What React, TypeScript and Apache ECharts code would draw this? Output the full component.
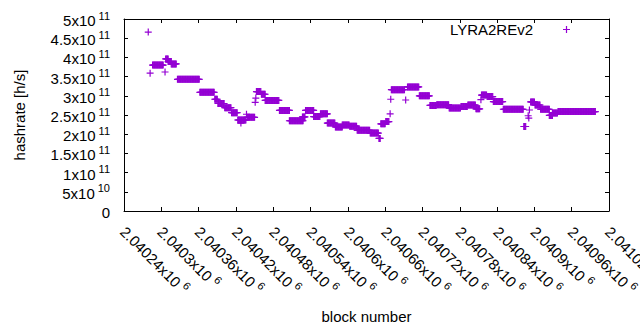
import React, { useEffect, useRef } from "react";
import * as echarts from "echarts";

// Runs of blocks sharing the same hashrate value (start block, end block, hashrate)
const runStart = [
  2040279, 2040282, 2040286, 2040306, 2040307, 2040311, 2040316, 2040326, 2040362, 2040386,
  2040391, 2040402, 2040413, 2040423, 2040428, 2040437, 2040438, 2040451, 2040452, 2040453,
  2040461, 2040467, 2040490, 2040506, 2040527, 2040532, 2040545, 2040556, 2040567, 2040580,
  2040591, 2040603, 2040615, 2040636, 2040650, 2040653, 2040661, 2040668, 2040669, 2040670,
  2040693, 2040696, 2040715, 2040732, 2040743, 2040763, 2040782, 2040793, 2040806, 2040814,
  2040815, 2040824, 2040834, 2040850, 2040883, 2040890, 2040891, 2040892, 2040894, 2040901,
  2040910, 2040924, 2040929, 2040938,
];
const runEnd = [
  2040279, 2040282, 2040303, 2040306, 2040311, 2040316, 2040324, 2040361, 2040385, 2040390,
  2040401, 2040412, 2040422, 2040436, 2040428, 2040437, 2040450, 2040451, 2040452, 2040460,
  2040467, 2040489, 2040506, 2040528, 2040531, 2040545, 2040555, 2040567, 2040579, 2040591,
  2040602, 2040614, 2040635, 2040649, 2040652, 2040660, 2040666, 2040668, 2040669, 2040691,
  2040693, 2040714, 2040731, 2040742, 2040762, 2040781, 2040792, 2040805, 2040812, 2040814,
  2040823, 2040833, 2040849, 2040882, 2040886, 2040890, 2040891, 2040892, 2040900, 2040909,
  2040924, 2040929, 2040937, 2040998,
];
const runValue = [
  4.66e11, 3.59e11, 3.8e11, 3.62e11, 3.96e11, 3.89e11, 3.83e11, 3.43e11, 3.09e11, 2.91e11,
  2.8e11, 2.69e11, 2.56e11, 2.37e11, 2.29e11, 2.52e11, 2.44e11, 2.83e11, 2.94e11, 3.11e11,
  3.04e11, 2.88e11, 2.62e11, 2.35e11, 2.45e11, 2.62e11, 2.46e11, 2.53e11, 2.29e11, 2.19e11,
  2.24e11, 2.21e11, 2.1e11, 2.03e11, 1.89e11, 2.27e11, 2.33e11, 2.53e11, 2.91e11, 3.16e11,
  2.89e11, 3.23e11, 3.0e11, 2.75e11, 2.77e11, 2.68e11, 2.72e11, 2.76e11, 2.66e11, 2.9e11,
  3.02e11, 2.98e11, 2.85e11, 2.65e11, 2.2e11, 2.48e11, 2.42e11, 2.63e11, 2.84e11, 2.76e11,
  2.65e11, 2.49e11, 2.55e11, 2.59e11,
];

const xMin = 2040240;
const xMax = 2041020;
const xStep = 60;
const yMin = 0;
const yMax = 5e11;
const yStep = 5e10;

const seriesName = "LYRA2REv2";
const xAxisTitle = "block number";
const yAxisTitle = "hashrate [h/s]";

const FONT = "Liberation Sans";
const COLOR = "#9400d3";
const PLUS = "path://M2.9,0H4.1V2.9H7V4.1H4.1V7H2.9V4.1H0V2.9H2.9Z";

function sciLabel(v: number, digits: number): string {
  if (v === 0) return "{m|0}";
  const e = Math.floor(Math.log10(Math.abs(v)) + 1e-9);
  const m = parseFloat((v / Math.pow(10, e)).toPrecision(digits));
  return `{m|${m}x10}{s|${e}}`;
}

function makeRich(supGap: number) {
  return {
    m: { fontSize: 15, lineHeight: 18, verticalAlign: "bottom", fontFamily: FONT, color: "#000" },
    s: {
      fontSize: 11,
      lineHeight: 12,
      verticalAlign: "top",
      fontFamily: FONT,
      color: "#000",
      padding: [0, 0, 0, supGap],
    },
  };
}

export default function App() {
  const ref = useRef<HTMLDivElement>(null);
  useEffect(() => {
    if (!ref.current) return;
    const chart = echarts.init(ref.current, undefined, { renderer: "svg" });
    const points: number[][] = [];
    runStart.forEach((s, i) => {
      for (let b = s; b <= runEnd[i]; b++) points.push([b, runValue[i]]);
    });
    const axisLine = { show: true, onZero: false, lineStyle: { color: "#000", width: 1 } };
    const axisTick = { show: true, inside: true, length: 4, lineStyle: { color: "#000", width: 1 } };
    chart.setOption({
      animation: false,
      backgroundColor: "#fff",
      textStyle: { fontFamily: FONT },
      grid: {
        left: 124,
        top: 19,
        width: 485,
        height: 192,
        containLabel: false,
        outerBoundsMode: "none",
      },
      legend: {
        data: [seriesName],
        right: 70,
        top: 22,
        padding: 0,
        align: "right",
        icon: PLUS,
        itemWidth: 7,
        itemHeight: 7,
        itemStyle: { color: COLOR },
        textStyle: { fontSize: 15, color: "#000", fontFamily: FONT, padding: [0, 25, 0, 0] },
      },
      xAxis: [
        {
          type: "value",
          min: xMin,
          max: xMax,
          interval: xStep,
          position: "bottom",
          name: xAxisTitle,
          nameLocation: "middle",
          nameGap: 98,
          nameTextStyle: { fontSize: 15, color: "#000", fontFamily: FONT },
          axisLine,
          axisTick,
          splitLine: { show: false },
          axisLabel: {
            rotate: -45,
            margin: 17,
            showMinLabel: true,
            showMaxLabel: true,
            formatter: (v: number) => sciLabel(v, 6),
            rich: makeRich(4),
          },
        },
        {
          type: "value",
          min: xMin,
          max: xMax,
          interval: xStep,
          position: "top",
          axisLine,
          axisTick,
          splitLine: { show: false },
          axisLabel: { show: false },
        },
      ],
      yAxis: [
        {
          type: "value",
          min: yMin,
          max: yMax,
          interval: yStep,
          position: "left",
          name: yAxisTitle,
          nameLocation: "middle",
          nameGap: 97,
          nameTextStyle: { fontSize: 15, color: "#000", fontFamily: FONT },
          axisLine,
          axisTick,
          splitLine: { show: false },
          axisLabel: {
            margin: 14,
            formatter: (v: number) => sciLabel(v, 3),
            rich: makeRich(3),
          },
        },
        {
          type: "value",
          min: yMin,
          max: yMax,
          interval: yStep,
          position: "right",
          axisLine,
          axisTick,
          splitLine: { show: false },
          axisLabel: { show: false },
        },
      ],
      series: [
        {
          name: seriesName,
          type: "scatter",
          data: points,
          symbol: PLUS,
          symbolSize: 7,
          itemStyle: { color: COLOR, opacity: 1 },
          emphasis: { disabled: true },
          xAxisIndex: 0,
          yAxisIndex: 0,
        },
      ],
    });
    return () => chart.dispose();
  }, []);
  return <div ref={ref} style={{ width: 640, height: 330, position: "absolute", left: 0, top: 0 }} />;
}
